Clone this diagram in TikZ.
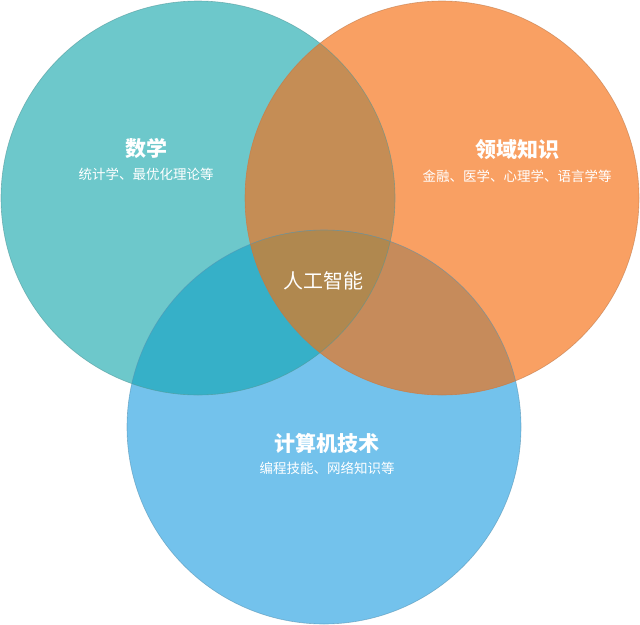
\documentclass[tikz,border=0pt]{standalone}
\usepackage{fontspec}
\newfontfamily\cjk{Noto Sans CJK SC}
\begin{document}
\begin{tikzpicture}[x=1pt,y=-1pt,
  title/.style={text=white,font=\cjk\fontsize{21}{24}\selectfont\bfseries},
  sub/.style={text=white,font=\cjk\fontsize{13.5}{16}\selectfont}]
\useasboundingbox (0,0) rectangle (640,624);
\definecolor{teal}{HTML}{6DC8CB}
\definecolor{org}{HTML}{F9A063}
\definecolor{blu}{HTML}{73C2EC}
\definecolor{to}{HTML}{C58D55}
\definecolor{tb}{HTML}{36B0C8}
\definecolor{ob}{HTML}{C68B5B}
\definecolor{ctr}{HTML}{B0884F}
\def\CA{(198,198) circle (197)}
\def\CB{(442,198) circle (197)}
\def\CC{(324,427) circle (197)}
\fill[white] (0,0) rectangle (640,624);
\fill[blu] \CC;
\fill[teal] \CA;
\fill[org] \CB;
\begin{scope}\clip \CA; \fill[to] \CB; \fill[tb] \CC; \end{scope}
\begin{scope}\clip \CB; \fill[ob] \CC; \end{scope}
\begin{scope}\clip \CA; \clip \CB; \fill[ctr] \CC; \end{scope}
\draw[blu!75!black,line width=0.6pt,opacity=0.6] \CC;
\draw[teal!75!black,line width=0.6pt,opacity=0.6] \CA;
\draw[org!75!black,line width=0.6pt,opacity=0.6] \CB;
\node[title] (m) at (146,148) {数学};
\node[sub] (ms) at (146,174) {统计学、最优化理论等};
\node[title] (d) at (517,150) {领域知识};
\node[sub] (ds) at (517,176) {金融、医学、心理学、语言学等};
\node[title] (c) at (327,443) {计算机技术};
\node[sub] (cs) at (327,468) {编程技能、网络知识等};
\node[text=white,font=\cjk\fontsize{20}{24}\selectfont] (ai) at (323,281) {人工智能};
\end{tikzpicture}
\end{document}
